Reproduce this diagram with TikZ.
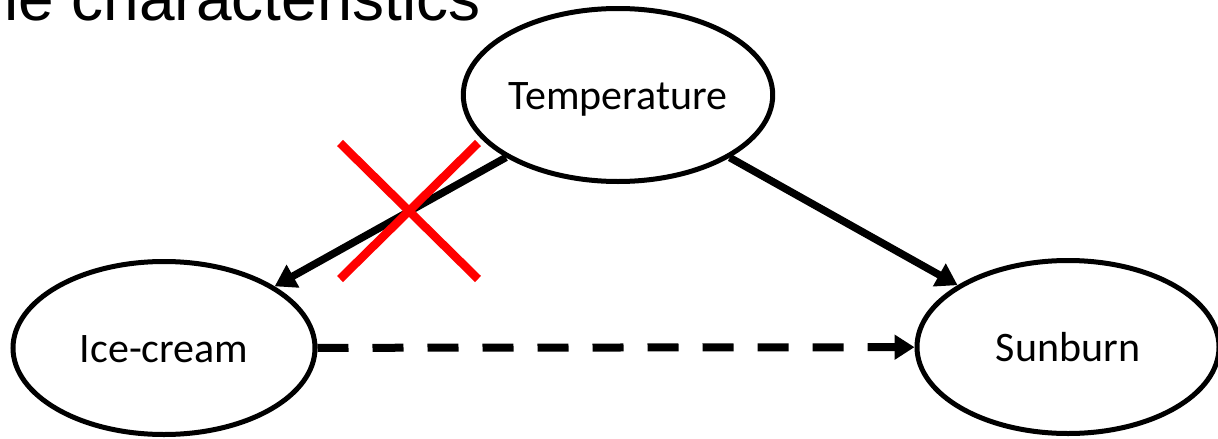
\documentclass[tikz,border=0pt]{standalone}
\usepackage{fontspec}
\setmainfont{Carlito}
\newfontfamily\headfont{Liberation Sans}
\usetikzlibrary{shapes.geometric,arrows.meta}

\definecolor{vetored}{RGB}{255,0,0}

\tikzset{
  var/.style={ellipse, draw, line width=5pt, minimum width=302pt,
    minimum height=173pt, inner sep=0pt,
    text height=29pt, text depth=0pt,
    font=\fontsize{42}{50}\selectfont},
  cause/.style={line width=7.5pt, -{Triangle[length=21pt,width=25pt]}},
  assoc/.style={line width=8pt, dash pattern=on 31pt off 24pt,
    -{Triangle[length=20pt,width=24pt]}},
  veto/.style={draw=vetored, line width=8.5pt},
}

\begin{document}
\begin{tikzpicture}[x=1pt,y=-1pt]
  \useasboundingbox (0,0) rectangle (1218,439);
  \clip (0,0) rectangle (1218,439);

  % heading line, partly above the frame
  \node[anchor=base west, inner sep=0pt,
        font=\headfont\fontsize{64}{70}\selectfont] (head) at (4,20)
        {le characteristics};

  % variables
  \node[var] (temp) at (618,95)  {Temperature};
  \node[var] (ice)  at (164,348) {Ice-cream};
  \node[var] (sun)  at (1068,347) {Sunburn};

  % causal links
  \draw[cause] (temp) -- (ice);
  \draw[cause] (temp) -- (sun);
  \draw[assoc] (ice) -- (sun);

  % crossed-out link
  \coordinate (cross) at (409,211);
  \draw[veto] (cross) +(-69,-68) -- +(69,68);
  \draw[veto] (cross) +(69,-68) -- +(-69,68);
\end{tikzpicture}
\end{document}
